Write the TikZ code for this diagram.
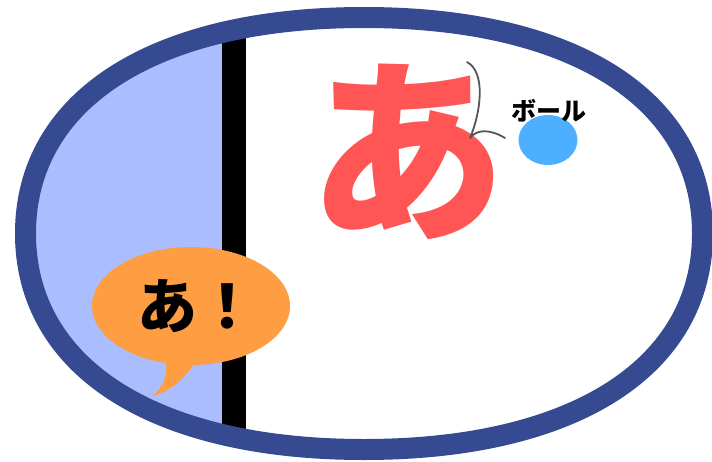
\documentclass[tikz,border=0pt]{standalone}
\usepackage{fontspec}
\newfontfamily\jpfont{Noto Sans CJK JP}
\definecolor{rim}{RGB}{53,74,144}
\definecolor{paleblue}{RGB}{170,190,255}
\definecolor{redchar}{RGB}{255,85,85}
\definecolor{ballblue}{RGB}{77,175,255}
\definecolor{bubbleorange}{RGB}{255,157,66}
\definecolor{curvegray}{RGB}{85,85,85}
\tikzset{
  jptext/.style={inner sep=0pt, font=\jpfont\bfseries},
}
\begin{document}
\begin{tikzpicture}[x=1pt,y=-1pt]
\useasboundingbox (0,0) rectangle (712,461);
\def\rimpath{(702.5,233.5) .. controls (702.5,367.4) and (573.9,449.5) .. (364,449.5) .. controls (154.1,449.5) and (25.5,367.4) .. (25.5,233.5) .. controls (25.5,99.6) and (154.1,17.5) .. (364,17.5) .. controls (573.9,17.5) and (702.5,99.6) .. (702.5,233.5) -- cycle}
\fill[white] \rimpath;
\begin{scope}
  \clip \rimpath;
  \fill[paleblue] (0,0) rectangle (223,461);
  \fill[black] (222,0) rectangle (246,461);
\end{scope}
\draw[rim, line width=21pt] \rimpath;
% big red character
\node[jptext, text=redchar, font=\jpfont\bfseries\fontsize{198}{198}\selectfont, anchor=base] (bigchar) at (407,225) {あ};
% gray curve
\coordinate (c1) at (467,62);
\coordinate (c2) at (470,138);
\coordinate (c3) at (505,138);
\draw[curvegray, line width=1.8pt, line cap=round, line join=round]
  (c1) .. controls (486,72) and (481,112) .. (c2)
       .. controls (477,129) and (490,129) .. (c3);
% ball
\fill[ballblue] (548,140) ellipse [x radius=29.5, y radius=25];
\node[jptext, font=\jpfont\bfseries\fontsize{25}{25}\selectfont] (ball) at (549,111) {ボール};
% speech bubble
\fill[bubbleorange] (191,306) ellipse [x radius=99, y radius=59];
\fill[bubbleorange] (166,355) .. controls (168,378) and (162,389) .. (152,396)
  .. controls (172,391) and (186,378) .. (200,355) -- cycle;
\node[jptext, font=\jpfont\bfseries\fontsize{60}{60}\selectfont, anchor=base] (shout) at (197,328) {あ！};
\end{tikzpicture}
\end{document}
